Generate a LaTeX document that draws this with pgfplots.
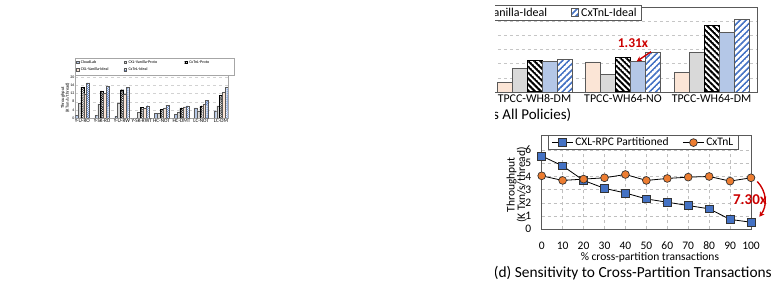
\documentclass[border=0pt]{standalone}
\usepackage{pgfplots}
\pgfplotsset{compat=1.18}
\usepackage{fontspec}
\setmainfont{Carlito}
\usetikzlibrary{patterns.meta, arrows.meta}
\definecolor{pinkc}{RGB}{251,229,214}
\definecolor{grayc}{RGB}{217,217,217}
\definecolor{bluec}{RGB}{180,199,231}
\definecolor{bhatch}{RGB}{68,114,196}
\definecolor{edgec}{RGB}{89,89,89}
\definecolor{redc}{RGB}{204,0,0}
\definecolor{orangec}{RGB}{237,125,49}
\definecolor{markblue}{RGB}{68,114,196}
\tikzdeclarepattern{
  name=hatch,
  parameters={\pgfkeysvalueof{/pgf/pattern keys/size},\pgfkeysvalueof{/pgf/pattern keys/angle},\pgfkeysvalueof{/pgf/pattern keys/line width}},
  bounding box={(0,-0.5*\pgfkeysvalueof{/pgf/pattern keys/line width}) and (\pgfkeysvalueof{/pgf/pattern keys/size},0.5*\pgfkeysvalueof{/pgf/pattern keys/line width})},
  tile size={(\pgfkeysvalueof{/pgf/pattern keys/size},\pgfkeysvalueof{/pgf/pattern keys/size})},
  tile transformation={rotate=\pgfkeysvalueof{/pgf/pattern keys/angle}},
  defaults={size/.initial=5pt,angle/.initial=45,line width/.initial=.4pt},
  code={\draw[line width=\pgfkeysvalueof{/pgf/pattern keys/line width}] (0,0) -- (\pgfkeysvalueof{/pgf/pattern keys/size},0);},
}
\begin{document}
\begin{tikzpicture}[x=1pt,y=1pt]
\useasboundingbox (0,0) rectangle (773,281);
% ---------------- small left chart ----------------
\begin{axis}[
  at={(75.3pt,163pt)}, anchor=south west, scale only axis,
  width=152.7pt, height=43pt,
  xmin=-0.35, xmax=7.35, ymin=0, ymax=21,
  ybar=0pt, bar width=2.9pt,
  xtick={0,...,7},
  xticklabels={Y-U-RO,Y-SK-RO,Y-U-RW,Y-SK-RWT,HC-NOT,HC-DMT,LC-NOT,LC-DM},
  ytick={0,4,...,20},
  major tick length=0pt,
  xticklabel style={font=\fontsize{5.2}{5.5}\selectfont, inner sep=0.8pt},
  yticklabel style={font=\fontsize{3.9}{4.2}\selectfont, inner sep=0.8pt},
  /pgf/number format/assume math mode=true,
  ymajorgrids, grid style={dashed, gray!35, line width=0.2pt},
  axis line style={gray!70, line width=0.3pt},
  ylabel={Throughput\\(K Txn/s/thread)},
  ylabel style={at={(axis description cs:-0.066,0.47)}, anchor=center, align=center, font=\fontsize{4.6}{4.8}\selectfont},
  legend columns=3,
  legend style={at={(0,1)}, anchor=south west, draw=gray!70, line width=0.3pt,
    font=\fontsize{4.1}{4.6}\selectfont, inner xsep=0.6pt, inner ysep=0.6pt,
    row sep=-0.8pt, /tikz/every even column/.append style={column sep=0pt}},
  legend cell align=left,
  legend image code/.code={\draw[#1, line width=0.25pt] (0pt,-1pt) rectangle (2.5pt,1.5pt);},
]
\addplot[fill=bluec, draw=edgec, line width=0.25pt] coordinates {(0,1.3)(1,1.3)(2,0.8)(3,0.1)(4,2.4)(5,1.8)(6,4.9)(7,3.6)};
\addlegendentry{\makebox[41pt][l]{CloudLab}}
\addplot[fill=grayc, draw=edgec, line width=0.25pt] coordinates {(0,7.2)(1,6.8)(2,7.3)(3,2.8)(4,2.4)(5,2.8)(6,3.6)(7,6.0)};
\addlegendentry{\makebox[54pt][l]{CXL-Vanilla-Proto}}
\addplot[fill=white, postaction={pattern={hatch[size=1.3pt,angle=-45,line width=0.55pt]}, pattern color=black}, draw=black, line width=0.25pt] coordinates {(0,15.1)(1,13.2)(2,13.8)(3,5.2)(4,4.2)(5,5.0)(6,5.9)(7,11.1)};
\addlegendentry{\makebox[42pt][l]{CxTnL-Proto}}
\addplot[fill=pinkc, draw=edgec, line width=0.25pt] coordinates {(0,11.9)(1,12.2)(2,11.5)(3,4.6)(4,5.0)(5,5.5)(6,6.8)(7,12.7)};
\addlegendentry{\makebox[41pt][l]{CXL-Vanilla-Ideal}}
\addplot[fill=white, postaction={pattern={hatch[size=1.4pt,angle=45,line width=0.45pt]}, pattern color=bhatch}, draw=edgec, line width=0.25pt] coordinates {(0,17.1)(1,15.6)(2,15.1)(3,6.0)(4,6.3)(5,5.9)(6,8.6)(7,15.1)};
\addlegendentry{\makebox[54pt][l]{CxTnL-Ideal}}
\end{axis}
% ---------------- right pieces (cropped) ----------------
\begin{scope}
\clip (495,0) rectangle (773,281);
\begin{axis}[
  at={(401.75pt,189pt)}, anchor=south west, scale only axis,
  width=355.25pt, height=85pt,
  xmin=-1.5, xmax=2.514, ymin=0, ymax=6,
  ybar=0pt, bar width=15pt,
  xtick={0,1,2}, xticklabels={TPCC-WH8-DM,TPCC-WH64-NO,TPCC-WH64-DM},
  ytick={0,...,6}, yticklabels={},
  major tick length=0pt,
  tick label style={font=\fontsize{11.9}{12}\selectfont},
  xticklabel style={yshift=1pt},
  ymajorgrids, grid style={dashed, gray!45, line width=0.5pt},
  axis line style={edgec, line width=0.8pt},
  clip=false,
  legend columns=-1,
  legend style={at={(0.6763,1.0235)}, anchor=north east, draw=edgec, line width=0.7pt,
    font=\fontsize{12}{13}\selectfont, inner xsep=3pt, inner ysep=0.5pt,
    /tikz/every even column/.append style={column sep=22pt}},
  legend image code/.code={\draw[#1] (0pt,-4pt) rectangle (7pt,4pt);},
]
\addplot[fill=pinkc, draw=edgec, line width=0.7pt] coordinates {(0,0.70)(1,2.12)(2,1.36)};
\addlegendentry{CloudLab}
\addplot[fill=grayc, draw=edgec, line width=0.7pt] coordinates {(0,1.67)(1,1.27)(2,2.80)};
\addlegendentry{CXL-Vanilla-Proto}
\addplot[fill=white, postaction={pattern={hatch[size=4.2pt,angle=-45,line width=2pt]}, pattern color=black}, draw=black, line width=1pt] coordinates {(0,2.21)(1,2.45)(2,4.66)};
\addlegendentry{CxTnL-Proto}
\addplot[fill=bluec, draw=edgec, line width=0.7pt] coordinates {(0,2.17)(1,2.15)(2,4.21)};
\addlegendentry{CXL-Vanilla-Ideal}
\addplot[fill=white, postaction={pattern={hatch[size=4.4pt,angle=45,line width=1.6pt]}, pattern color=bhatch}, draw=edgec, line width=0.9pt] coordinates {(0,2.31)(1,2.82)(2,5.13)};
\addlegendentry{CxTnL-Ideal\hspace{10pt}}
\node[text=redc, font=\bfseries\fontsize{13.5}{14}\selectfont] at (axis cs:1.113,3.48) {1.31x};
\draw[-{Stealth[length=5pt,width=5pt]}, draw=redc, line width=1.4pt] (axis cs:1.316,2.84) -- (axis cs:1.155,2.16);
\end{axis}
\node[anchor=base east, inner sep=0, font=\fontsize{15}{16}\selectfont] at (571.5,161) {(c) Overall Throughput (Across All Policies)};
\begin{axis}[
  at={(541.7pt,51.7pt)}, anchor=south west, scale only axis,
  width=209.3pt, height=94.3pt,
  xmin=0, xmax=100, ymin=0, ymax=7.14,
  xtick={0,10,...,100}, ytick={0,...,6},
  major tick length=0pt,
  tick label style={font=\fontsize{11.5}{12}\selectfont},
  /pgf/number format/assume math mode=true,
  xticklabel style={yshift=-11.5pt, inner sep=1pt},
  yticklabel style={xshift=-7pt},
  grid=major, grid style={dashed, gray!50, line width=0.6pt},
  axis line style={edgec, line width=0.8pt},
  clip=false,
  xlabel={\% cross-partition transactions},
  xlabel style={at={(axis description cs:0.517,-0.297)}, anchor=center, inner sep=1pt, font=\fontsize{11.5}{12}\selectfont},
  ylabel={Throughput\\(K Txn/s/thread)},
  ylabel style={at={(axis description cs:-0.12,0.47)}, anchor=center, align=center, font=\fontsize{11.5}{10.5}\selectfont},
  legend columns=2,
  legend style={at={(0.4857,1)}, anchor=north, draw=edgec, line width=0.7pt,
    font=\fontsize{11.5}{12}\selectfont, inner xsep=3pt, inner ysep=0.5pt,
    /tikz/every even column/.append style={column sep=12pt}},
  legend image code/.code={\draw[mark repeat=2,mark phase=2,#1] plot coordinates {(0pt,0pt)(10.5pt,0pt)(21pt,0pt)};},
]
\addplot[black, line width=0.8pt, mark=square*, mark size=3.9pt, mark options={fill=markblue, draw=black!80, line width=0.7pt}] coordinates {(0,5.55)(10,4.8)(20,3.7)(30,3.1)(40,2.75)(50,2.3)(60,2.05)(70,1.8)(80,1.55)(90,0.75)(100,0.535)};
\addlegendentry{CXL-RPC Partitioned}
\addplot[black, line width=0.8pt, mark=*, mark size=3.9pt, mark options={fill=orangec, draw=black!80, line width=0.7pt}] coordinates {(0,4.05)(10,3.7)(20,3.8)(30,3.9)(40,4.15)(50,3.7)(60,3.85)(70,3.95)(80,4.0)(90,3.65)(100,3.9)};
\addlegendentry{CxTnL}
\draw[-{Stealth[length=5pt,width=5.5pt]}, draw=redc, line width=1.4pt] (axis cs:103,3.62) to[bend left=40] (axis cs:104,0.95);
\node[text=redc, font=\bfseries\fontsize{15}{16}\selectfont, inner sep=0] at (axis cs:99.5,2.22) {7.30x};
\end{axis}
\node[anchor=base east, inner sep=0, font=\fontsize{15.4}{16}\selectfont] at (772,4) {(d) Sensitivity to Cross-Partition Transactions};
\end{scope}
\end{tikzpicture}
\end{document}
